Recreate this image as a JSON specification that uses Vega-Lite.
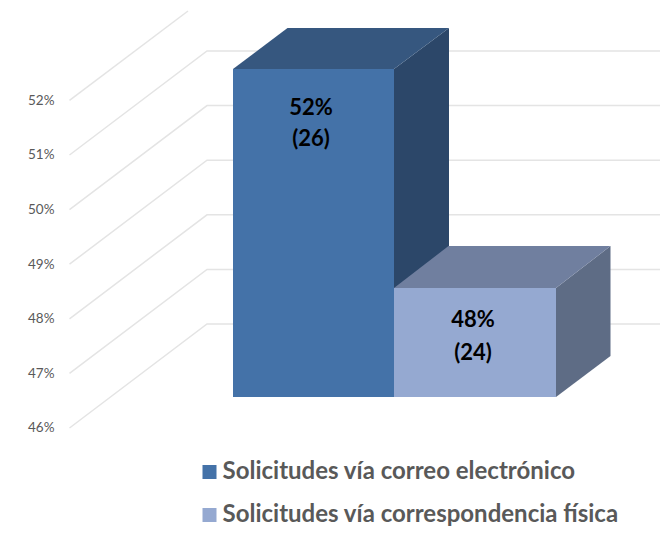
{
"$schema":"https://vega.github.io/schema/vega-lite/v6.json",
"width":660,"height":540,"padding":0,"autosize":{"type":"none"},
"background":"white",
"config":{"view":{"stroke":null},"axis":{"grid":false}},
"encoding":{
"x":{"field":"x","type":"quantitative","scale":{"domain":[0,660]},"axis":null},
"y":{"field":"y","type":"quantitative","scale":{"domain":[43.9487,53.8388]},
"axis":{"values":[46,47,48,49,50,51,52],"labelExpr":"datum.value+'%'","title":null,"domain":false,"ticks":false,"grid":false,"offset":-54,"labelPadding":0,"labelColor":"#595959","labelFont":"Lato","labelFontSize":13.5}}
},
"layer":[
{"data":{"values":[
{"linea":46,"x":69.5,"y":46},{"linea":46,"x":207,"y":47.905},{"linea":46,"x":660,"y":47.905},
{"linea":47,"x":69.5,"y":47},{"linea":47,"x":207,"y":48.905},{"linea":47,"x":660,"y":48.905},
{"linea":48,"x":69.5,"y":48},{"linea":48,"x":207,"y":49.905},{"linea":48,"x":660,"y":49.905},
{"linea":49,"x":69.5,"y":49},{"linea":49,"x":207,"y":50.905},{"linea":49,"x":660,"y":50.905},
{"linea":50,"x":69.5,"y":50},{"linea":50,"x":207,"y":51.905},{"linea":50,"x":660,"y":51.905},
{"linea":51,"x":69.5,"y":51},{"linea":51,"x":207,"y":52.905},{"linea":51,"x":660,"y":52.905},
{"linea":52,"x":69.5,"y":52},{"linea":52,"x":188,"y":53.637}
]},
"mark":{"type":"line","color":"#e4e4e4","strokeWidth":1.5,"interpolate":"linear"},
"encoding":{"detail":{"field":"linea"}}},
{"data":{"values":[
{"x":394,"y":52.575,"y2":46.568},{"x":449,"y":53.326,"y2":47.319}
]},
"mark":{"type":"area","color":"#2C4769","opacity":1},
"encoding":{"y2":{"field":"y2"}}},
{"data":{"values":[
{"x":233,"y":52.575,"y2":52.575},{"x":287.5,"y":53.326,"y2":52.575},{"x":394,"y":53.326,"y2":52.575},{"x":449,"y":53.326,"y2":53.326}
]},
"mark":{"type":"area","color":"#36577F","opacity":1},
"encoding":{"y2":{"field":"y2"}}},
{"data":{"values":[
{"x":556,"y":48.564,"y2":46.568},{"x":610.5,"y":49.333,"y2":47.319}
]},
"mark":{"type":"area","color":"#5E6C85","opacity":1},
"encoding":{"y2":{"field":"y2"}}},
{"data":{"values":[
{"x":394,"y":48.564,"y2":48.564},{"x":448.5,"y":49.333,"y2":48.564},{"x":556,"y":49.333,"y2":48.564},{"x":610.5,"y":49.333,"y2":49.333}
]},
"mark":{"type":"area","color":"#707F9F","opacity":1},
"encoding":{"y2":{"field":"y2"}}},
{"data":{"values":[
{"serie":"Solicitudes vía correo electrónico","x":233,"x2":394,"y":52.575,"y2":46.568},
{"serie":"Solicitudes vía correspondencia física","x":394,"x2":556,"y":48.564,"y2":46.568}
]},
"mark":{"type":"rect","opacity":1},
"encoding":{"x2":{"field":"x2"},"y2":{"field":"y2"},
"color":{"field":"serie","type":"nominal","scale":{"domain":["Solicitudes vía correo electrónico","Solicitudes vía correspondencia física"],"range":["#4472A8","#95A9D1"]},
"legend":{"title":null,"orient":"none","legendX":197.5,"legendY":460,"symbolType":"square","symbolSize":196,"symbolOpacity":1,"symbolStrokeWidth":0,"rowPadding":19,"labelFont":"Lato","labelFontWeight":"bold","labelFontSize":24,"labelColor":"#595959","labelOffset":1,"labelLimit":450,"clipHeight":24}}}},
{"data":{"values":[
{"etiqueta":"52%","x":311,"y":51.866},
{"etiqueta":"(26)","x":311,"y":51.293},
{"etiqueta":"48%","x":473,"y":47.978},
{"etiqueta":"(24)","x":473,"y":47.379}
]},
"mark":{"type":"text","font":"Lato","fontWeight":"bold","fontSize":22,"color":"#000000","align":"center","baseline":"middle"},
"encoding":{"text":{"field":"etiqueta"}}}
]
}
